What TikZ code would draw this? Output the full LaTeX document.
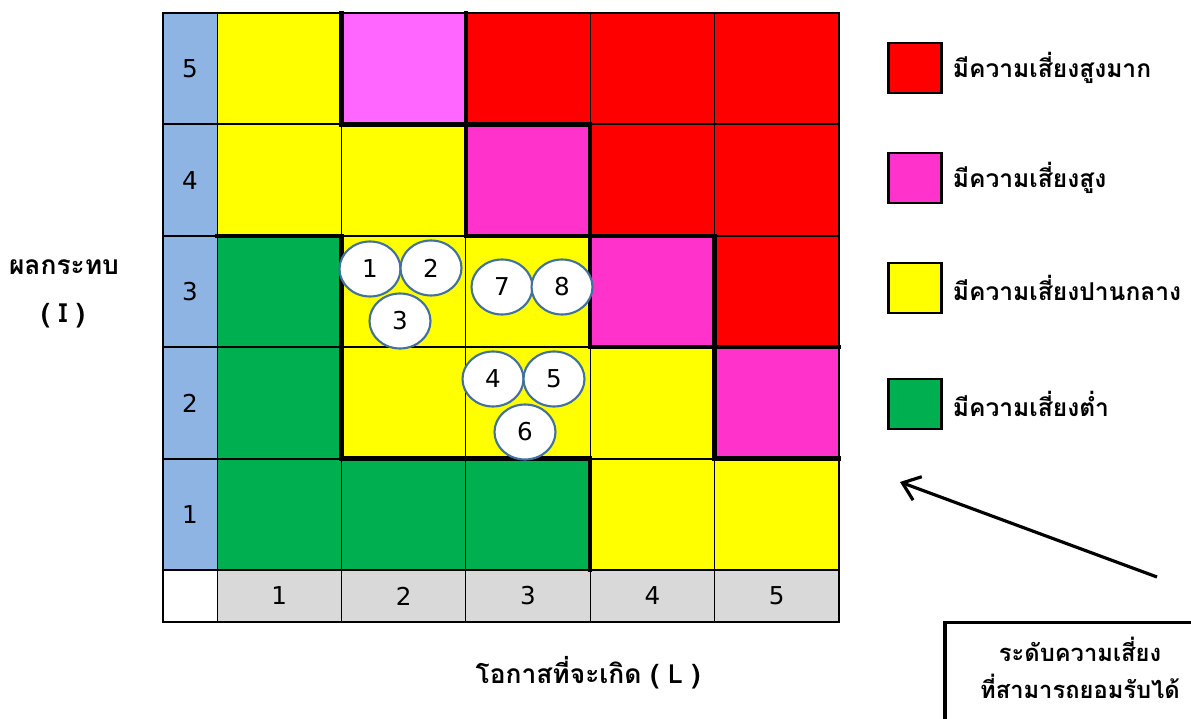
\documentclass[tikz,border=0pt]{standalone}
\usepackage{fontspec}
\setmainfont{DejaVu Sans}
\newfontfamily\thaifont[Script=Thai]{Loma}
\usetikzlibrary{arrows.meta, positioning, shapes.geometric}
\definecolor{riskred}{HTML}{FF0000}
\definecolor{riskpink}{HTML}{FF33CC}
\definecolor{risklilac}{HTML}{FF66FF}
\definecolor{riskyellow}{HTML}{FFFF00}
\definecolor{riskgreen}{HTML}{00B050}
\definecolor{axisblue}{HTML}{8DB4E2}
\definecolor{axisgray}{HTML}{D9D9D9}
\definecolor{ringblue}{HTML}{41719C}
\tikzset{
  tick/.style={font=\fontsize{14}{16}\selectfont,inner sep=0pt},
  colline/.style={draw=black,line width=0.5pt},
  rowline/.style={draw=black,line width=1.1pt},
  frame/.style={draw=black,line width=1.3pt},
  edge/.style={draw=black,line width=2.4pt,line cap=rect},
  hazard/.style={ellipse,draw=ringblue,line width=1.2pt,fill=white,
    minimum width=1.22cm,minimum height=1.1cm,inner sep=0pt,
    font=\fontsize{14}{16}\selectfont},
  legbox/.style={rectangle,draw=black,line width=1.2pt,
    minimum width=1.06cm,minimum height=1.0cm,inner sep=0pt},
  legtext/.style={font=\thaifont\bfseries\fontsize{14}{17}\selectfont,inner sep=0pt},
  axistext/.style={font=\thaifont\bfseries\fontsize{15}{18}\selectfont,align=center},
  okbox/.style={rectangle,draw=black,line width=1.8pt,
    minimum width=5.4cm,minimum height=2.3cm},
  oktext/.style={font=\thaifont\bfseries\fontsize{13.5}{21}\selectfont,align=center},
  pointer/.style={-{Straight Barb[length=3.2mm,width=5mm]},line width=1.8pt}
}

\begin{document}
\begin{tikzpicture}[x=0.02cm,y=-0.02cm]
\useasboundingbox (0,0) rectangle (1191,719);
\clip (0,0) rectangle (1191,719);

% risk cells (col/row/colour), row 1 at the bottom
\foreach \c/\r/\clr in {1/5/riskyellow,2/5/risklilac,3/5/riskred,4/5/riskred,5/5/riskred,
    1/4/riskyellow,2/4/riskyellow,3/4/riskpink,4/4/riskred,5/4/riskred,
    1/3/riskgreen,2/3/riskyellow,3/3/riskyellow,4/3/riskpink,5/3/riskred,
    1/2/riskgreen,2/2/riskyellow,3/2/riskyellow,4/2/riskyellow,5/2/riskpink,
    1/1/riskgreen,2/1/riskgreen,3/1/riskgreen,4/1/riskyellow,5/1/riskyellow}
  \fill[\clr] ({217+124.4*(\c-1)},{570-111.4*\r}) rectangle ({217+124.4*\c},{570-111.4*(\r-1)});

% axes
\foreach \r in {1,...,5} {
  \fill[axisblue] (163,{570-111.4*\r}) rectangle (217,{570-111.4*(\r-1)});
  \node[tick] (imp-\r) at (190,{570-111.4*\r+55.7}) {\r};
}
\foreach \c in {1,...,5} {
  \fill[axisgray] ({217+124.4*(\c-1)},570) rectangle ({217+124.4*\c},622);
  \node[tick] (lik-\c) at ({217+124.4*\c-62.2},596) {\c};
}

% grid
\foreach \c in {0,...,5} \draw[colline] ({217+124.4*\c},13) -- ({217+124.4*\c},622);
\foreach \r in {0,...,5} \draw[rowline] (163,{570-111.4*\r}) -- (839,{570-111.4*\r});
\draw[frame] (163,13) rectangle (839,622);

% zone boundaries
\draw[edge] (341.4,13) -- (341.4,124.4) -- (465.8,124.4) -- (465.8,235.8) -- (590.2,235.8)
  -- (590.2,347.2) -- (714.6,347.2) -- (714.6,458.6) -- (839,458.6);
\draw[edge] (465.8,13) -- (465.8,124.4) -- (590.2,124.4) -- (590.2,235.8) -- (714.6,235.8)
  -- (714.6,347.2) -- (839,347.2);
\draw[edge] (217,235.8) -- (341.4,235.8) -- (341.4,458.6) -- (590.2,458.6) -- (590.2,570);

% hazards
\node[hazard] (h1) at (370,269) {1};
\node[hazard] (h2) at (431,268) {2};
\node[hazard] (h3) at (400,321) {3};
\node[hazard] (h7) at (502,287) {7};
\node[hazard] (h8) at (562,287) {8};
\node[hazard] (h4) at (493,379) {4};
\node[hazard] (h5) at (554,379) {5};
\node[hazard] (h6) at (525,432) {6};

% axis titles
\node[axistext] (ylab) at (64,267) {ผลกระทบ};
\node[axistext] (yunit) at (63,316) {( I )};
\node[axistext] (xlab) at (588,673) {โอกาสที่จะเกิด ( L )};

% legend
\node[legbox,fill=riskred] (lg-vh) at (915,68) {};
\node[legbox,fill=riskpink] (lg-h) at (915,178) {};
\node[legbox,fill=riskyellow] (lg-m) at (915,288) {};
\node[legbox,fill=riskgreen] (lg-l) at (915,404) {};
\node[legtext,right=0.2cm of lg-vh] (lt-vh) {มีความเสี่ยงสูงมาก};
\node[legtext,right=0.2cm of lg-h] (lt-h) {มีความเสี่ยงสูง};
\node[legtext,right=0.2cm of lg-m] (lt-m) {มีความเสี่ยงปานกลาง};
\node[legtext,right=0.2cm of lg-l] (lt-l) {มีความเสี่ยงต่ำ};

% acceptable level
\node[okbox] (okbox) at (1080,680) {};
\node[oktext] (oklabel) at (1080,668) {ระดับความเสี่ยง\\ที่สามารถยอมรับได้};
\coordinate (arr-tail) at (1157,577);
\coordinate (arr-tip) at (900,482);
\draw[pointer] (arr-tail) -- (arr-tip);
\end{tikzpicture}
\end{document}
